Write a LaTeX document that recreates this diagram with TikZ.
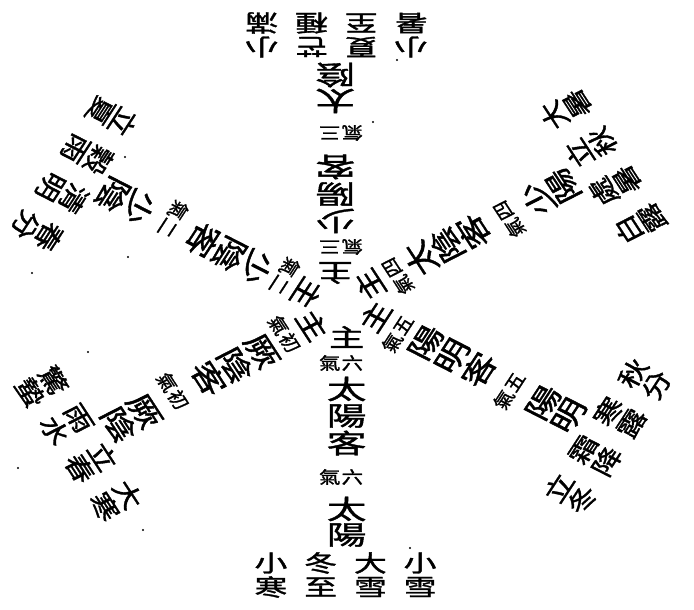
\documentclass[tikz,border=0pt]{standalone}
\usepackage{fontspec}
\newfontfamily\cjk[FakeBold=1.3]{Noto Sans CJK TC}
\tikzset{
  big/.style={font=\cjk\fontsize{35}{35}\selectfont, inner sep=0pt, yscale=0.76},
  zhuc/.style={font=\cjk\fontsize{31}{31}\selectfont, inner sep=0pt, yscale=0.8},
  smallq/.style={font=\cjk\fontsize{19}{19}\selectfont, inner sep=0pt, yscale=0.9},
  termc/.style={font=\cjk\fontsize{29}{29}\selectfont, inner sep=0pt, yscale=0.8},
  speck/.style={fill=black}
}
\newcommand{\qispoke}[8]{%
\begin{scope}[rotate=#1]
\node[zhuc] (#2zhu) at (5,-32) {主};
\node[smallq] (#2na) at (10,-58) {#3};
\node[smallq] (#2qa) at (-10,-58) {氣};
\node[big] (#2ha) at (5,-84) {#4};
\node[big] (#2hb) at (5,-111) {#5};
\node[big] (#2ke) at (5,-138) {客};
\node[smallq] (#2nb) at (10,-172) {#3};
\node[smallq] (#2qb) at (-10,-172) {氣};
\node[big] (#2ga) at (5,-204) {#6};
\node[big] (#2gb) at (5,-230) {#7};
\foreach \a/\b [count=\i] in {#8} {
  \node[termc] (#2t\i a) at ({114-44*\i},-258) {\a};
  \node[termc] (#2t\i b) at ({114-44*\i},-282) {\b};
}
\end{scope}}
\begin{document}
\begin{tikzpicture}[x=1pt,y=1pt]
\fill[white] (0,0) rectangle (694,610);
\useasboundingbox (0,0) rectangle (694,610);
\begin{scope}[shift={(341,305)}, xscale=1.13, transform shape]
\qispoke{180}{top}{三}{少}{陽}{太}{陰}{小/滿,芒/種,夏/至,小/暑}
\qispoke{120}{ur}{四}{太}{陰}{少}{陽}{大/暑,立/秋,處/暑,白/露}
\qispoke{60}{lr}{五}{陽}{明}{陽}{明}{秋/分,寒/露,霜/降,立/冬}
\qispoke{0}{bot}{六}{太}{陽}{太}{陽}{小/雪,大/雪,冬/至,小/寒}
\qispoke{-60}{ll}{初}{厥}{陰}{厥}{陰}{大/寒,立/春,雨/水,驚/蟄}
\qispoke{-120}{ul}{二}{少}{陰}{少}{陰}{春/分,清/明,穀/雨,立/夏}
\end{scope}
\foreach \p in {(125,453),(128,353),(32,337),(88,258),(18,142),(143,80),(410,62),(397,550),(373,488)}
  \fill[speck] \p circle (1.2);
\end{tikzpicture}
\end{document}
